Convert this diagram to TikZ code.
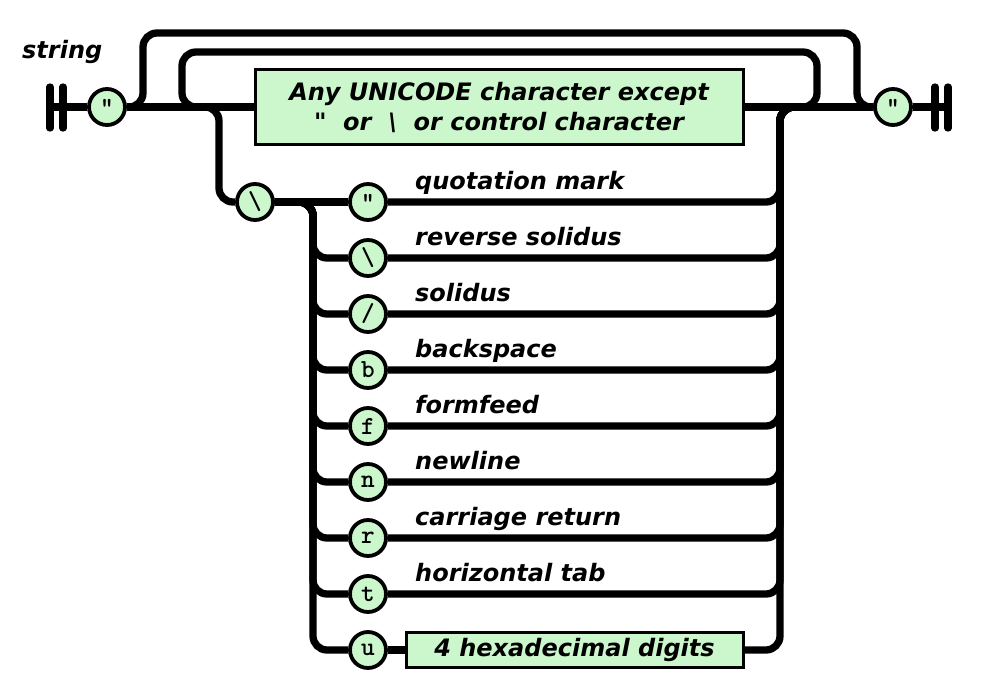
\documentclass[tikz,border=0pt]{standalone}
\usepackage{fontspec}
\setmainfont{DejaVu Sans}
\usetikzlibrary{positioning}
\definecolor{railgreen}{RGB}{204,247,204}
\tikzset{
  rail/.style={line width=7.3pt},
  track/.style={rail, rounded corners=14pt},
  stopbar/.style={line width=7.3pt, line cap=round},
  tok/.style={circle, draw, line width=3.8pt, fill=railgreen, minimum size=36pt,
    inner sep=0pt, font=\ttfamily\bfseries\fontsize{26}{26}\selectfont},
  lit/.style={draw, line width=3pt, fill=railgreen, inner sep=0pt, align=center,
    font=\bfseries\itshape\fontsize{24}{30}\selectfont},
  desc/.style={anchor=base west, inner sep=0pt,
    font=\bfseries\itshape\fontsize{24}{24}\selectfont}
}
\begin{document}
\begin{tikzpicture}[x=1pt, y=-1pt]
    \useasboundingbox (0,0) rectangle (986,699);
    \node[desc] (title) at (22,58) {string};
    %end bars
    \foreach \x in {50,63,935,948}
        \draw[stopbar] (\x,87) -- (\x,128);
    \coordinate (lt) at (50,107);
    \coordinate (rt) at (948,107);
    \coordinate (outL) at (143,33);
    \coordinate (outR) at (857,33);
    \coordinate (inL) at (182,52);
    \coordinate (inR) at (817,52);
    \coordinate (escL) at (219,150);
    \coordinate (colL) at (313,202);
    \coordinate (colR) at (780,202);

    \node[tok] (qopen) at (107,107) {\textquotedbl};
    \node[lit, minimum width=488pt, minimum height=75pt] (anychar) at (499,107)
        {Any UNICODE character except\\ \textquotedbl\ \ or\ \ \textbackslash\ \ or control character};
    \node[tok] (qclose) at (893,107) {\textquotedbl};
    \node[tok] (esc) at (255,202) {\textbackslash};

    %escapes
    \foreach \ch/\txt [count=\k from 0] in {\textquotedbl/quotation mark, \textbackslash/reverse solidus,
        {/}/solidus, b/backspace, f/formfeed, n/newline, r/carriage return, t/horizontal tab}
    {
        \node[tok] (e\k) at (368,{202+56*\k}) {\ch};
        \node[desc] (d\k) at (415,{189+56*\k}) {\txt};
    }
    \node[tok] (e8) at (368,650) {u};
    \node[lit, minimum width=337pt, minimum height=35pt] (hex) at (574.5,650) {4 hexadecimal digits};

    %main line
    \draw[rail] (lt) -- (qopen);
    \draw[rail] (qopen) -- (anychar);
    \draw[rail] (anychar) -- (qclose);
    \draw[rail] (qclose) -- (rt);
    \draw[track] (qopen.east) -| (outL) -| (outR |- qclose) -- (qclose.west);
    \draw[track] (anychar.east) -| (inR) -| (inL |- anychar) -- (anychar.west);
    \draw[track] (qopen.east) -| (escL |- esc) -- (esc.west);

    \draw[rail] (esc) -- (e0);
    \foreach \k in {1,...,8}
        \draw[track] (esc.east) -| (colL |- e\k) -- (e\k.west);
    \foreach \k in {0,...,7}
        \draw[track] (e\k.east) -| (colR |- qclose) -- (qclose.west);
    \draw[rail] (e8) -- (hex);
    \draw[track] (hex.east) -| (colR |- qclose) -- (qclose.west);
\end{tikzpicture}
\end{document}
